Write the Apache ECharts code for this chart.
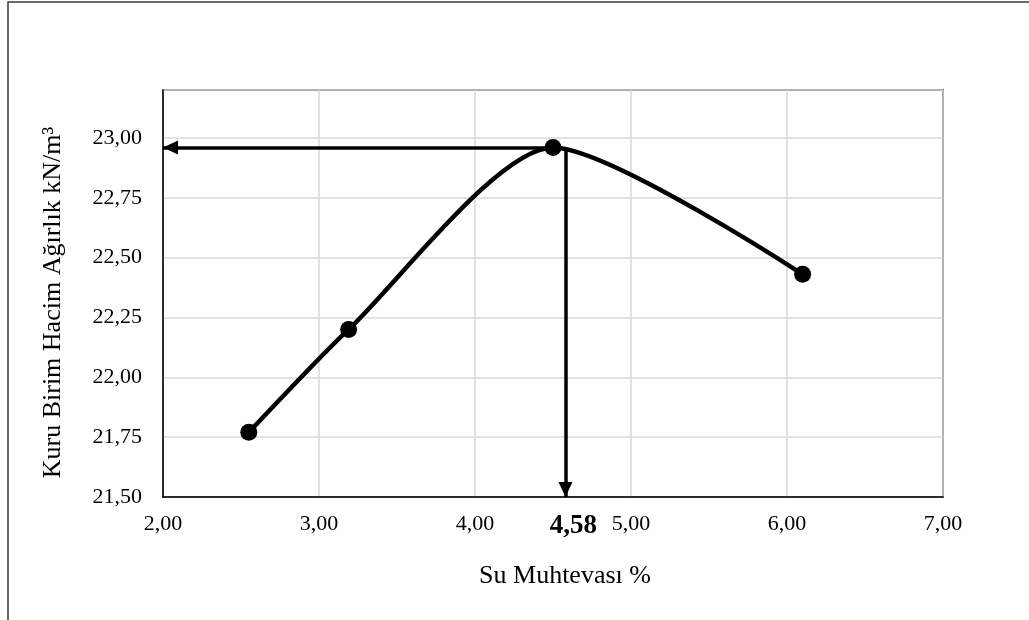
<!DOCTYPE html>
<html>
<head>
<meta charset="utf-8">
<script src="https://cdn.jsdelivr.net/npm/echarts@6/dist/echarts.min.js"></script>
<style>
  html, body { margin: 0; padding: 0; background: #fff; }
  #chart { width: 1029px; height: 620px; }
</style>
</head>
<body>
<div id="chart"></div>
<script>
// Compaction test: water content (%) vs. dry unit weight (kN/m³)
const waterContent = [2.55, 3.19, 4.50, 6.10];
const dryUnitWeight = [21.77, 22.20, 22.96, 22.43];

// Optimum water content and maximum dry unit weight
const peakWater = 4.50;
const maxDryUnitWeight = 22.96;
const optimumWater = 4.58;

// Axis ranges
const xRange = [2, 7];
const xStep = 1;
const yRange = [21.5, 23.2];
const yStep = 0.25;

const fmt = v => Number(v).toFixed(2).replace('.', ',');
const FONT = '"Liberation Serif", "Times New Roman", serif';

// Solid triangular arrow head whose tip sits on the end point
// (the tiny leading segment pads the box so the tip is at its centre)
const ARROW_HEAD = 'path://M5,-10L5.001,-10ZM5,0L10,10L0,10Z';

const chart = echarts.init(document.getElementById('chart'), null, { renderer: 'canvas' });

chart.setOption({
  animation: false,
  backgroundColor: '#fff',
  graphic: [{
    type: 'rect',
    shape: { x: 8, y: 2, width: 1040, height: 640 },
    style: { fill: 'none', stroke: '#3a3a3a', lineWidth: 1.5 },
    silent: true,
    z: -10
  }],
  grid: {
    left: 163, right: 86, top: 90, bottom: 123,
    show: true, borderColor: '#000', borderWidth: 1.5
  },
  xAxis: {
    type: 'value',
    min: xRange[0], max: xRange[1], interval: xStep,
    name: 'Su Muhtevası %',
    nameLocation: 'middle',
    nameGap: 66,
    nameTextStyle: { fontFamily: FONT, fontSize: 26, color: '#000', padding: [0, 0, 0, 24] },
    axisLine: { show: true, onZero: false, lineStyle: { color: '#000', width: 1.5 } },
    axisTick: { show: false },
    axisLabel: { formatter: fmt, fontFamily: FONT, fontSize: 22, color: '#000', margin: 16 },
    splitLine: { show: true, lineStyle: { color: '#d9d9d9', width: 1.5 } }
  },
  yAxis: {
    type: 'value',
    min: yRange[0], max: yRange[1], interval: yStep,
    name: 'Kuru Birim Hacim Ağırlık kN/m³',
    nameLocation: 'middle',
    nameGap: 97,
    nameTextStyle: { fontFamily: FONT, fontSize: 26, color: '#000', padding: [0, 18, 0, 0] },
    axisLine: { show: true, onZero: false, lineStyle: { color: '#000', width: 1.5 } },
    axisTick: { show: false },
    axisLabel: { formatter: fmt, fontFamily: FONT, fontSize: 22, color: '#000', margin: 21, showMaxLabel: false },
    splitLine: { show: true, lineStyle: { color: '#d9d9d9', width: 1.5 } }
  },
  series: [{
    type: 'line',
    data: waterContent.map((w, i) => [w, dryUnitWeight[i]]),
    smooth: 0.24,
    symbol: 'circle',
    symbolSize: 17,
    lineStyle: { color: '#000', width: 4.5 },
    itemStyle: { color: '#000' },
    z: 5,
    markLine: {
      silent: true,
      symbol: ['none', ARROW_HEAD],
      symbolSize: [14, 30],
      lineStyle: { color: '#000', width: 3.5, type: 'solid' },
      label: { show: false },
      data: [
        [
          { coord: [peakWater, maxDryUnitWeight] },
          { coord: [xRange[0], maxDryUnitWeight] }
        ],
        [
          { coord: [optimumWater, maxDryUnitWeight] },
          {
            coord: [optimumWater, yRange[0]],
            label: {
              show: true,
              position: 'end',
              formatter: () => fmt(optimumWater),
              fontFamily: FONT,
              fontSize: 27,
              fontWeight: 'bold',
              color: '#000',
              distance: 16,
              offset: [8, 0]
            }
          }
        ]
      ]
    }
  }]
});
</script>
</body>
</html>
